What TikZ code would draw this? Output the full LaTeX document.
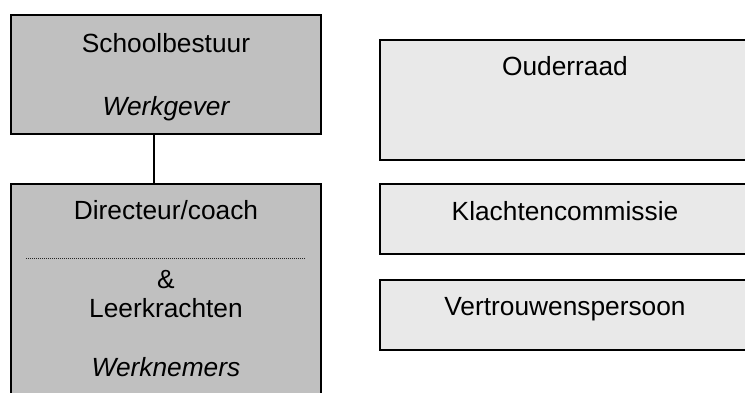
\documentclass[tikz,border=0pt]{standalone}
\usepackage{fontspec}
\setmainfont{Liberation Sans}
\definecolor{darkbox}{RGB}{192,192,192}
\definecolor{lightbox}{RGB}{233,233,233}
\begin{document}
\begin{tikzpicture}[x=1pt,y=-1pt,
  boxdark/.style={draw=black,fill=darkbox,line width=2.2pt,rectangle,inner sep=0pt},
  boxlight/.style={draw=black,fill=lightbox,line width=2.2pt,rectangle,inner sep=0pt},
  lbl/.style={anchor=base,inner sep=0pt,font=\fontsize{26.3}{30}\selectfont},
  conn/.style={draw=black,line width=2.2pt}]
\useasboundingbox (0,0) rectangle (745,392);
\clip (0,0) rectangle (745,392);
\node[boxdark,minimum width=310pt,minimum height=119pt] (sb) at (166,74.5) {};
\node[boxdark,minimum width=310pt,minimum height=230pt] (dir) at (166,299) {};
\node[boxlight,minimum width=370pt,minimum height=120pt] (ou) at (565,100) {};
\node[boxlight,minimum width=370pt,minimum height=70pt] (kl) at (565,219) {};
\node[boxlight,minimum width=370pt,minimum height=70pt] (vp) at (565,315) {};
\draw[conn] ([xshift=-12pt]sb.south) -- ([xshift=-12pt]dir.north);
\coordinate (dl) at (26,258);
\coordinate (dr) at (306,258);
\draw[line width=1pt,black!85,dash pattern=on 1pt off 1pt] (dl) -- (dr);
\node[lbl] (t1) at (166,52) {Schoolbestuur};
\node[lbl] (t2) at (166,115.5) {\itshape Werkgever};
\node[lbl] (t3) at (166,219.5) {Directeur/coach};
\node[lbl] (t4) at (166,288) {\&};
\node[lbl] (t5) at (166,317) {Leerkrachten};
\node[lbl] (t6) at (166,376) {\itshape Werknemers};
\node[lbl] (t7) at (565,75.5) {Ouderraad};
\node[lbl] (t8) at (565,220.5) {Klachtencommissie};
\node[lbl] (t9) at (565,315.5) {Vertrouwenspersoon};
\end{tikzpicture}
\end{document}
